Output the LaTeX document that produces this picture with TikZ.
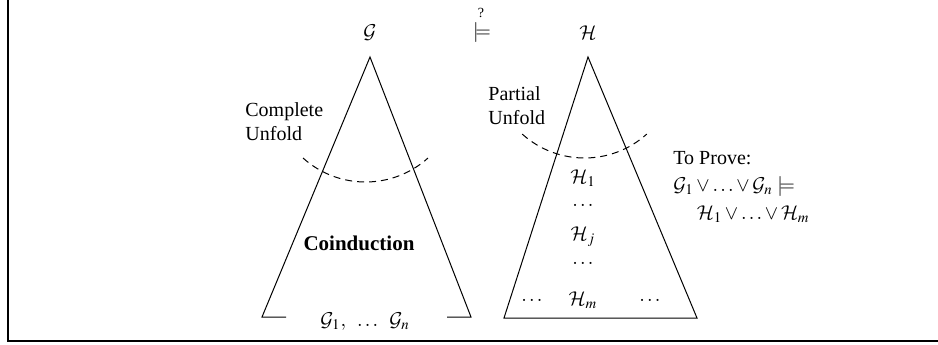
\documentclass[tikz,border=0pt]{standalone}
\usepackage{mathptmx}
\DeclareMathAlphabet{\mathcal}{OMS}{cmsy}{m}{n}
\usepackage{fontspec}
\setmainfont{Liberation Serif}
\begin{document}
\begin{tikzpicture}[x=0.5pt,y=-0.5pt,
  tri/.style={line width=0.5pt},
  frameline/.style={line width=1pt},
  unfold/.style={line width=0.5pt, dash pattern=on 3.5pt off 2.5pt},
  lbl/.style={inner sep=0pt, font=\fontsize{10}{12}\selectfont},
  lbll/.style={lbl, align=left, anchor=west}]
\useasboundingbox (0,0) rectangle (938,344);
% frame (left and bottom)
\coordinate (ftop) at (8,0);
\coordinate (fcorner) at (8,341);
\coordinate (fright) at (938,341);
\draw[frameline] (ftop) -- (fcorner) -- (fright);
% left triangle
\coordinate (ga) at (370,57);
\coordinate (gl) at (262,317);
\coordinate (gr) at (471,317);
\coordinate (glg) at (286,317);
\coordinate (grg) at (447,317);
\draw[tri] (glg) -- (gl) -- (ga) -- (gr) -- (grg);
% right triangle
\coordinate (ha) at (588,57);
\coordinate (hl) at (504,318);
\coordinate (hr) at (697,318);
\draw[tri] (ha) -- (hl) -- (hr) -- cycle;
% dashed unfold arcs
\coordinate (gc) at (365.5,88.6);
\draw[unfold] (gc) ++(132:93.4) arc[start angle=132, end angle=48, radius=93.4];
\coordinate (hc) at (584.5,65);
\draw[unfold] (hc) ++(132:93) arc[start angle=132, end angle=48, radius=93];
% top labels
\node[lbl] (G) at (370,33) {$\mathcal{G}$};
\node[lbl] (mod) at (482,33) {$\models$};
\node[lbl, font=\fontsize{7}{8}\selectfont] (q) at (481,13) {?};
\node[lbl] (H) at (588,33) {$\mathcal{H}$};
% left labels
\node[lbll] (cu) at (245,122) {Complete\\Unfold};
\node[lbl, font=\fontsize{10.5}{12}\selectfont\bfseries] (coind) at (359,243) {Coinduction};
\node[lbl] (gs) at (365,322) {$\mathcal{G}_1,\;\;\ldots\;\;\mathcal{G}_n$};
% right labels
\node[lbll] (pu) at (488,106) {Partial\\Unfold};
\node[lbl] (h1) at (583,178) {$\mathcal{H}_1$};
\node[lbl] (d1) at (583,205) {$\ldots$};
\node[lbl] (hj) at (583,237) {$\mathcal{H}_j$};
\node[lbl] (d2) at (583,263) {$\ldots$};
\node[lbl] (hm) at (583,300) {$\mathcal{H}_m$};
\node[lbl] (dl) at (532,300) {$\ldots$};
\node[lbl] (dr) at (650,300) {$\ldots$};
% to prove
\node[lbl, anchor=west] (tp) at (673,158) {To Prove:};
\node[lbl, anchor=west] (tp2) at (673,187) {$\mathcal{G}_1\vee\ldots\vee\mathcal{G}_n\models$};
\node[lbl, anchor=east] (tp3) at (810,214) {$\mathcal{H}_1\vee\ldots\vee\mathcal{H}_m$};
\end{tikzpicture}
\end{document}
